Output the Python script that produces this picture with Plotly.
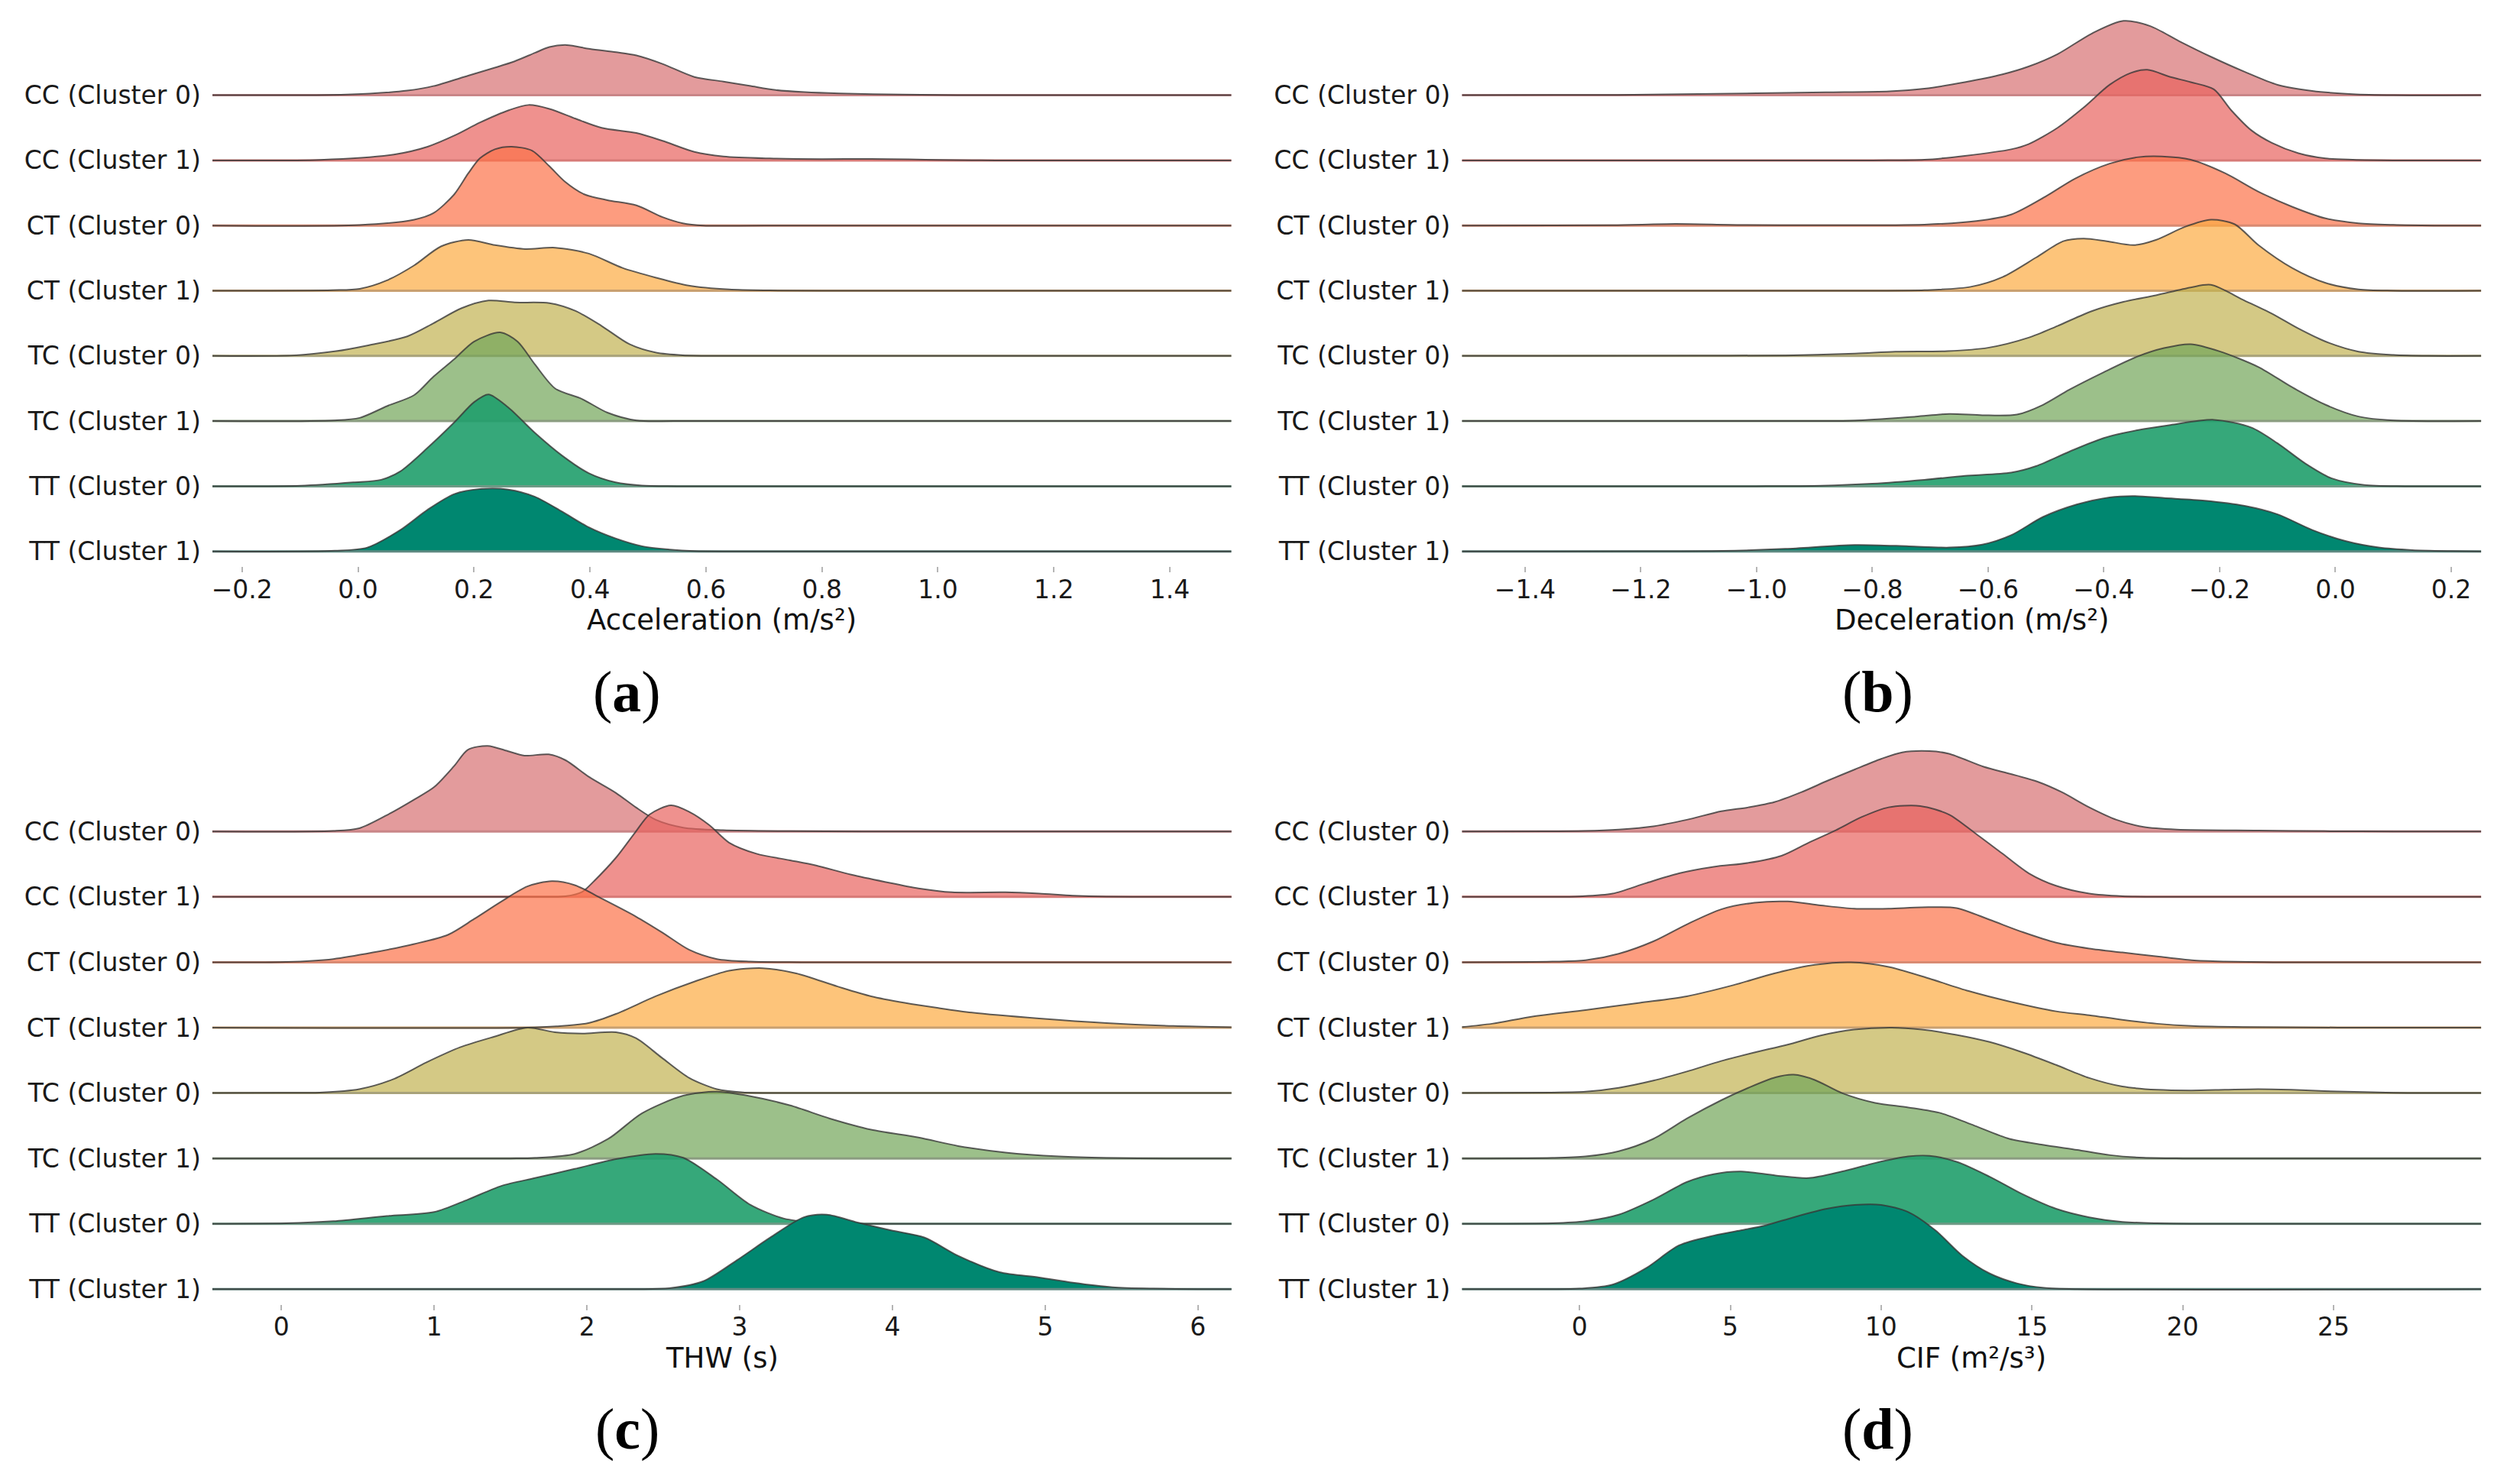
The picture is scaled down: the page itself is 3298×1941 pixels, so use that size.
import plotly.graph_objects as go

# row labels, top to bottom
labels = ["CC (Cluster 0)", "CC (Cluster 1)", "CT (Cluster 0)", "CT (Cluster 1)",
          "TC (Cluster 0)", "TC (Cluster 1)", "TT (Cluster 0)", "TT (Cluster 1)"]

# ---- (a) Acceleration: x values and ridge heights (in row units) ----
acc_cc0_x = [-0.251, -0.05, 0.02, 0.085, 0.13, 0.19, 0.235, 0.27, 0.305, 0.33, 0.36, 0.40, 0.445, 0.48, 0.525, 0.58, 0.63, 0.675, 0.72, 0.77, 0.83, 0.94, 1.05, 1.506]
acc_cc0_h = [0, 0.005, 0.025, 0.07, 0.14, 0.30, 0.42, 0.52, 0.65, 0.74, 0.77, 0.71, 0.66, 0.61, 0.48, 0.28, 0.21, 0.145, 0.08, 0.047, 0.027, 0.01, 0, 0]
acc_cc1_x = [-0.251, -0.065, 0.062, 0.12, 0.166, 0.21, 0.26, 0.294, 0.33, 0.375, 0.42, 0.48, 0.525, 0.58, 0.63, 0.71, 0.80, 0.885, 0.95, 1.0, 1.1, 1.506]
acc_cc1_h = [0, 0.008, 0.09, 0.21, 0.38, 0.58, 0.77, 0.85, 0.79, 0.64, 0.50, 0.42, 0.30, 0.13, 0.06, 0.03, 0.02, 0.023, 0.015, 0.008, 0, 0]
acc_ct0_x = [-0.251, 0.003, 0.097, 0.13, 0.166, 0.19, 0.21, 0.236, 0.265, 0.30, 0.33, 0.356, 0.39, 0.43, 0.48, 0.525, 0.56, 0.595, 0.7, 1.506]
acc_ct0_h = [0, 0.008, 0.09, 0.19, 0.48, 0.80, 1.03, 1.17, 1.21, 1.15, 0.91, 0.68, 0.48, 0.39, 0.31, 0.13, 0.035, 0, 0, 0]
acc_ct1_x = [-0.251, -0.043, 0.003, 0.05, 0.097, 0.143, 0.19, 0.236, 0.288, 0.34, 0.398, 0.456, 0.514, 0.57, 0.64, 0.71, 0.8, 1.506]
acc_ct1_h = [0, 0.008, 0.03, 0.16, 0.39, 0.68, 0.78, 0.70, 0.64, 0.66, 0.57, 0.35, 0.20, 0.08, 0.02, 0.005, 0, 0]
acc_tc0_x = [-0.251, -0.11, -0.04, 0.016, 0.085, 0.13, 0.178, 0.225, 0.27, 0.33, 0.375, 0.42, 0.468, 0.514, 0.56, 0.62, 1.506]
acc_tc0_h = [0, 0.008, 0.07, 0.16, 0.30, 0.50, 0.73, 0.85, 0.82, 0.81, 0.69, 0.46, 0.18, 0.05, 0.01, 0, 0]
acc_tc1_x = [-0.251, -0.04, 0.003, 0.05, 0.097, 0.13, 0.166, 0.2, 0.245, 0.275, 0.305, 0.34, 0.386, 0.43, 0.48, 0.55, 1.506]
acc_tc1_h = [0, 0.01, 0.05, 0.23, 0.40, 0.68, 0.95, 1.22, 1.36, 1.22, 0.87, 0.50, 0.34, 0.13, 0.01, 0, 0]
acc_tt0_x = [-0.251, -0.1, -0.008, 0.04, 0.073, 0.12, 0.166, 0.2, 0.225, 0.259, 0.305, 0.352, 0.398, 0.444, 0.49, 0.55, 1.506]
acc_tt0_h = [0, 0.008, 0.06, 0.10, 0.23, 0.59, 0.98, 1.29, 1.41, 1.21, 0.82, 0.47, 0.20, 0.06, 0.01, 0, 0]
acc_tt1_x = [-0.251, -0.04, 0.016, 0.073, 0.12, 0.166, 0.213, 0.259, 0.305, 0.352, 0.398, 0.444, 0.49, 0.537, 0.58, 0.65, 1.506]
acc_tt1_h = [0, 0.01, 0.06, 0.33, 0.64, 0.88, 0.96, 0.95, 0.84, 0.61, 0.37, 0.20, 0.08, 0.03, 0.005, 0, 0]

# ---- (b) Deceleration ----
dec_cc0_x = [-1.509, -1.24, -1.0, -0.88, -0.77, -0.71, -0.64, -0.575, -0.53, -0.48, -0.42, -0.366, -0.32, -0.27, -0.215, -0.157, -0.1, -0.04, 0.03, 0.1, 0.252]
dec_cc0_h = [0, 0.005, 0.03, 0.045, 0.06, 0.10, 0.20, 0.32, 0.44, 0.63, 0.95, 1.14, 1.06, 0.83, 0.59, 0.36, 0.16, 0.066, 0.016, 0, 0]
dec_cc1_x = [-1.509, -0.8, -0.71, -0.64, -0.56, -0.53, -0.48, -0.435, -0.39, -0.354, -0.325, -0.285, -0.25, -0.21, -0.18, -0.145, -0.11, -0.064, -0.017, 0.03, 0.1, 0.252]
dec_cc1_h = [0, 0, 0.01, 0.07, 0.17, 0.25, 0.50, 0.81, 1.16, 1.34, 1.39, 1.28, 1.20, 1.09, 0.77, 0.46, 0.27, 0.11, 0.03, 0.01, 0, 0]
dec_ct0_x = [-1.509, -1.25, -1.14, -1.03, -0.9, -0.71, -0.62, -0.56, -0.50, -0.45, -0.39, -0.34, -0.30, -0.25, -0.19, -0.133, -0.075, -0.017, 0.04, 0.1, 0.17, 0.252]
dec_ct0_h = [0, 0.005, 0.025, 0.008, 0.005, 0.015, 0.07, 0.17, 0.45, 0.72, 0.95, 1.05, 1.06, 1.01, 0.80, 0.52, 0.29, 0.11, 0.035, 0.01, 0, 0]
dec_ct1_x = [-1.509, -0.8, -0.71, -0.63, -0.575, -0.517, -0.47, -0.435, -0.395, -0.348, -0.31, -0.26, -0.215, -0.174, -0.133, -0.075, -0.017, 0.04, 0.1, 0.252]
dec_ct1_h = [0, 0, 0.008, 0.06, 0.21, 0.51, 0.76, 0.80, 0.76, 0.70, 0.78, 0.98, 1.09, 1.02, 0.70, 0.35, 0.12, 0.02, 0, 0]
dec_tc0_x = [-1.509, -1.1, -0.95, -0.83, -0.76, -0.67, -0.60, -0.53, -0.48, -0.42, -0.366, -0.31, -0.25, -0.215, -0.157, -0.11, -0.064, -0.017, 0.04, 0.1, 0.16, 0.252]
dec_tc0_h = [0, 0.003, 0.008, 0.035, 0.066, 0.074, 0.125, 0.28, 0.46, 0.69, 0.83, 0.93, 1.05, 1.09, 0.85, 0.65, 0.42, 0.22, 0.066, 0.015, 0, 0]
dec_tc1_x = [-1.509, -0.9, -0.83, -0.725, -0.667, -0.61, -0.55, -0.505, -0.46, -0.40, -0.342, -0.296, -0.25, -0.20, -0.133, -0.075, -0.017, 0.04, 0.1, 0.252]
dec_tc1_h = [0, 0, 0.008, 0.07, 0.11, 0.09, 0.10, 0.25, 0.48, 0.75, 0.99, 1.12, 1.18, 1.07, 0.83, 0.52, 0.25, 0.07, 0.01, 0]
dec_tt0_x = [-1.509, -1.0, -0.89, -0.80, -0.71, -0.64, -0.56, -0.517, -0.46, -0.40, -0.342, -0.285, -0.21, -0.145, -0.10, -0.052, -0.006, 0.05, 0.12, 0.252]
dec_tt0_h = [0, 0, 0.008, 0.04, 0.10, 0.16, 0.21, 0.31, 0.53, 0.74, 0.86, 0.94, 1.02, 0.90, 0.66, 0.35, 0.12, 0.02, 0, 0]
dec_tt1_x = [-1.509, -1.2, -1.06, -0.95, -0.83, -0.737, -0.667, -0.61, -0.56, -0.505, -0.447, -0.39, -0.348, -0.296, -0.226, -0.157, -0.10, -0.04, 0.017, 0.075, 0.133, 0.2, 0.252]
dec_tt1_h = [0, 0.002, 0.008, 0.04, 0.10, 0.08, 0.06, 0.105, 0.25, 0.53, 0.72, 0.83, 0.85, 0.82, 0.78, 0.70, 0.57, 0.33, 0.16, 0.06, 0.02, 0.005, 0]

# ---- (c) THW ----
thw_cc0_x = [-0.453, 0.34, 0.51, 0.69, 0.87, 1.0, 1.13, 1.22, 1.35, 1.48, 1.59, 1.75, 1.86, 2.01, 2.19, 2.32, 2.45, 2.63, 2.89, 3.33, 3.8, 6.22]
thw_cc0_h = [0, 0.008, 0.05, 0.25, 0.49, 0.68, 1.0, 1.25, 1.31, 1.23, 1.16, 1.18, 1.09, 0.84, 0.59, 0.37, 0.18, 0.06, 0.02, 0.005, 0, 0]
thw_cc1_x = [-0.453, 1.75, 1.86, 1.97, 2.05, 2.19, 2.32, 2.41, 2.55, 2.67, 2.8, 2.93, 3.11, 3.33, 3.5, 3.73, 3.95, 4.17, 4.39, 4.74, 4.96, 5.18, 5.4, 5.7, 6.22]
thw_cc1_h = [0, 0, 0.01, 0.08, 0.25, 0.60, 1.00, 1.26, 1.40, 1.30, 1.10, 0.83, 0.66, 0.56, 0.48, 0.34, 0.23, 0.13, 0.07, 0.07, 0.05, 0.02, 0.004, 0, 0]
thw_ct0_x = [-0.453, 0.03, 0.34, 0.6, 0.87, 1.09, 1.26, 1.44, 1.61, 1.77, 1.92, 2.1, 2.32, 2.49, 2.67, 2.85, 3.07, 3.4, 6.22]
thw_ct0_h = [0, 0.004, 0.05, 0.15, 0.28, 0.42, 0.66, 0.93, 1.16, 1.24, 1.18, 0.97, 0.70, 0.46, 0.19, 0.05, 0.01, 0, 0]
thw_ct1_x = [-0.453, 1.6, 1.8, 2.01, 2.19, 2.45, 2.71, 2.93, 3.15, 3.37, 3.64, 3.86, 4.08, 4.3, 4.52, 4.96, 5.4, 5.84, 6.22]
thw_ct1_h = [0, 0, 0.02, 0.07, 0.21, 0.48, 0.71, 0.87, 0.91, 0.83, 0.63, 0.48, 0.38, 0.30, 0.23, 0.14, 0.07, 0.025, 0.005]
thw_tc0_x = [-0.453, 0.0, 0.25, 0.51, 0.73, 0.95, 1.17, 1.39, 1.61, 1.79, 1.97, 2.19, 2.32, 2.49, 2.67, 2.85, 3.02, 3.3, 6.22]
thw_tc0_h = [0, 0.003, 0.008, 0.06, 0.21, 0.47, 0.70, 0.86, 1.0, 0.93, 0.91, 0.93, 0.84, 0.54, 0.23, 0.06, 0.01, 0, 0]
thw_tc1_x = [-0.453, 1.5, 1.66, 1.92, 2.14, 2.36, 2.63, 2.85, 3.07, 3.33, 3.59, 3.86, 4.17, 4.43, 4.74, 5.09, 5.4, 5.8, 6.22]
thw_tc1_h = [0, 0, 0.008, 0.07, 0.30, 0.69, 0.96, 1.02, 0.95, 0.81, 0.61, 0.44, 0.32, 0.19, 0.09, 0.03, 0.008, 0, 0]
thw_tt0_x = [-0.453, 0.03, 0.34, 0.69, 1.0, 1.22, 1.44, 1.66, 1.92, 2.19, 2.45, 2.63, 2.85, 3.07, 3.29, 3.5, 3.8, 6.22]
thw_tt0_h = [0, 0.008, 0.04, 0.12, 0.18, 0.37, 0.58, 0.70, 0.84, 0.99, 1.07, 1.01, 0.68, 0.29, 0.08, 0.02, 0, 0]
thw_tt1_x = [-0.453, 2.3, 2.54, 2.76, 2.98, 3.2, 3.42, 3.57, 3.77, 3.99, 4.21, 4.43, 4.7, 4.96, 5.18, 5.44, 5.71, 6.0, 6.22]
thw_tt1_h = [0, 0, 0.015, 0.12, 0.44, 0.79, 1.10, 1.14, 1.02, 0.90, 0.79, 0.51, 0.26, 0.18, 0.10, 0.03, 0.008, 0, 0]

# ---- (d) CIF ----
cif_cc0_x = [-3.9, -1, 0.2, 1.3, 2.45, 3.56, 4.7, 5.6, 6.46, 7.35, 8.24, 9.13, 10.0, 10.7, 11.6, 12.25, 13.4, 14.3, 15.2, 16.0, 16.9, 17.8, 18.7, 19.8, 22.5, 24.7, 27, 29.9]
cif_cc0_h = [0, 0.003, 0.008, 0.03, 0.08, 0.18, 0.31, 0.37, 0.45, 0.60, 0.78, 0.95, 1.11, 1.21, 1.23, 1.19, 0.99, 0.88, 0.76, 0.60, 0.37, 0.18, 0.07, 0.03, 0.015, 0.005, 0, 0]
cif_cc1_x = [-3.9, -1, 0, 1.1, 2.2, 3.3, 4.45, 5.6, 6.7, 7.6, 8.5, 9.35, 10.25, 11.3, 12.25, 13.1, 14.0, 14.9, 15.8, 16.9, 18.0, 19.5, 29.9]
cif_cc1_h = [0, 0, 0.008, 0.05, 0.21, 0.36, 0.46, 0.52, 0.63, 0.83, 1.02, 1.22, 1.37, 1.39, 1.26, 0.98, 0.67, 0.36, 0.17, 0.05, 0.01, 0, 0]
cif_ct0_x = [-3.9, -0.9, 0.2, 1.3, 2.45, 3.56, 4.7, 5.8, 6.9, 8.0, 9.1, 10.25, 11.35, 12.5, 13.6, 14.7, 15.8, 16.9, 18.0, 19.15, 20.3, 21.4, 23, 29.9]
cif_ct0_h = [0, 0.01, 0.03, 0.13, 0.32, 0.58, 0.81, 0.91, 0.93, 0.87, 0.82, 0.82, 0.84, 0.83, 0.65, 0.46, 0.30, 0.21, 0.15, 0.09, 0.03, 0.01, 0, 0]
cif_ct1_x = [-3.9, -2.9, -1.56, 0.2, 2.0, 3.56, 5.1, 6.46, 7.8, 9.0, 10.25, 11.6, 12.9, 14.25, 15.8, 16.9, 18.0, 19.15, 20.3, 22, 24, 26, 29.9]
cif_ct1_h = [0.01, 0.06, 0.17, 0.27, 0.38, 0.48, 0.65, 0.83, 0.96, 1.0, 0.93, 0.75, 0.56, 0.40, 0.25, 0.19, 0.12, 0.06, 0.025, 0.008, 0.003, 0, 0]
cif_tc0_x = [-3.9, -0.9, 0.2, 1.3, 2.45, 3.56, 4.7, 5.8, 6.9, 8.0, 9.1, 10.35, 11.35, 12.5, 13.6, 14.7, 15.8, 16.9, 18.0, 19.15, 20.3, 21.4, 22.5, 23.6, 24.7, 27, 29.9]
cif_tc0_h = [0, 0.008, 0.02, 0.08, 0.19, 0.33, 0.49, 0.62, 0.74, 0.88, 0.97, 1.0, 0.97, 0.89, 0.78, 0.62, 0.43, 0.23, 0.10, 0.05, 0.04, 0.05, 0.06, 0.05, 0.03, 0.005, 0]
cif_tc1_x = [-3.9, -0.9, 0.2, 1.3, 2.45, 3.56, 4.7, 5.6, 6.5, 7.1, 7.8, 8.7, 9.8, 10.9, 12.0, 13.1, 14.25, 15.35, 16.5, 17.6, 18.7, 20, 29.9]
cif_tc1_h = [0, 0.008, 0.03, 0.11, 0.30, 0.61, 0.89, 1.08, 1.24, 1.28, 1.20, 1.0, 0.85, 0.78, 0.69, 0.50, 0.30, 0.21, 0.13, 0.05, 0.01, 0, 0]
cif_tt0_x = [-3.9, -0.9, 0.2, 1.3, 2.45, 3.56, 4.45, 5.35, 6.5, 7.6, 8.7, 9.8, 10.9, 11.6, 12.5, 13.6, 14.7, 15.8, 16.9, 18.0, 19.15, 20.5, 29.9]
cif_tt0_h = [0, 0.008, 0.04, 0.14, 0.37, 0.64, 0.76, 0.80, 0.74, 0.70, 0.80, 0.93, 1.03, 1.04, 0.95, 0.72, 0.45, 0.23, 0.10, 0.03, 0.008, 0, 0]
cif_tt1_x = [-3.9, -1, 0, 1.1, 2.2, 3.3, 4.45, 5.35, 6.2, 7.1, 8.2, 9.13, 10.0, 10.9, 11.8, 12.7, 13.6, 14.5, 15.4, 16.5, 29.9]
cif_tt1_h = [0, 0, 0.008, 0.07, 0.32, 0.67, 0.82, 0.90, 0.98, 1.10, 1.23, 1.29, 1.29, 1.18, 0.90, 0.51, 0.24, 0.09, 0.02, 0, 0]

# tick values per panel
acc_ticks = [-0.2, 0.0, 0.2, 0.4, 0.6, 0.8, 1.0, 1.2, 1.4]
dec_ticks = [-1.4, -1.2, -1.0, -0.8, -0.6, -0.4, -0.2, 0.0, 0.2]
thw_ticks = [0, 1, 2, 3, 4, 5, 6]
cif_ticks = [0, 5, 10, 15, 20, 25]

fill_colors = ["rgba(215,112,114,0.7)", "rgba(232,98,94,0.7)", "rgba(252,114,73,0.7)",
               "rgba(252,171,66,0.7)", "rgba(194,178,81,0.7)", "rgba(114,165,88,0.7)",
               "rgba(32,158,107,0.9)", "rgba(0,135,112,1.0)"]
base_colors = ["#c98587", "#d77a77", "#d98a72", "#c9a070", "#a8a27a", "#8a9c80",
               "#6f9a86", "#5f8a82"]

panels = [
    dict(xs=[acc_cc0_x, acc_cc1_x, acc_ct0_x, acc_ct1_x, acc_tc0_x, acc_tc1_x, acc_tt0_x, acc_tt1_x],
         hs=[acc_cc0_h, acc_cc1_h, acc_ct0_h, acc_ct1_h, acc_tc0_h, acc_tc1_h, acc_tt0_h, acc_tt1_h],
         ax="x", ay="y"),
    dict(xs=[dec_cc0_x, dec_cc1_x, dec_ct0_x, dec_ct1_x, dec_tc0_x, dec_tc1_x, dec_tt0_x, dec_tt1_x],
         hs=[dec_cc0_h, dec_cc1_h, dec_ct0_h, dec_ct1_h, dec_tc0_h, dec_tc1_h, dec_tt0_h, dec_tt1_h],
         ax="x2", ay="y2"),
    dict(xs=[thw_cc0_x, thw_cc1_x, thw_ct0_x, thw_ct1_x, thw_tc0_x, thw_tc1_x, thw_tt0_x, thw_tt1_x],
         hs=[thw_cc0_h, thw_cc1_h, thw_ct0_h, thw_ct1_h, thw_tc0_h, thw_tc1_h, thw_tt0_h, thw_tt1_h],
         ax="x3", ay="y3"),
    dict(xs=[cif_cc0_x, cif_cc1_x, cif_ct0_x, cif_ct1_x, cif_tc0_x, cif_tc1_x, cif_tt0_x, cif_tt1_x],
         hs=[cif_cc0_h, cif_cc1_h, cif_ct0_h, cif_ct1_h, cif_tc0_h, cif_tc1_h, cif_tt0_h, cif_tt1_h],
         ax="x4", ay="y4"),
]

fig = go.Figure()
n = len(labels)
for p in panels:
    for i in range(n):
        xs, hs = p["xs"][i], p["hs"][i]
        base = n - 1 - i
        # baseline of the ridge
        fig.add_trace(go.Scatter(x=[xs[0], xs[-1]], y=[base, base], mode="lines",
                                 line=dict(color=base_colors[i], width=3),
                                 xaxis=p["ax"], yaxis=p["ay"], hoverinfo="skip"))
        # density ridge
        fig.add_trace(go.Scatter(x=xs, y=[base + h for h in hs], mode="lines",
                                 fill="tonexty", fillcolor=fill_colors[i],
                                 line=dict(color="rgba(55,55,55,0.8)", width=2,
                                           shape="spline", smoothing=0.8),
                                 xaxis=p["ax"], yaxis=p["ay"], name=labels[i]))

tick_font = dict(family="DejaVu Sans", size=33, color="#1a1a1a")


def xax(domain, rng, ticks, fmt, anchor):
    return dict(domain=domain, range=rng, anchor=anchor, tickvals=ticks, tickformat=fmt,
                showgrid=False, zeroline=False, showline=False, ticks="outside",
                ticklen=7, tickwidth=2, tickcolor="#b5b5b5", tickfont=tick_font,
                ticklabelstandoff=-6)


def yax(domain, rng, anchor):
    return dict(domain=domain, range=rng, anchor=anchor,
                tickvals=list(range(n - 1, -1, -1)), ticktext=labels,
                showgrid=False, zeroline=False, showline=False, ticks="",
                ticklabelstandoff=14, tickfont=tick_font)


# domains shifted by the page's 8 px body margin
left, right = [0.0818, 0.4863], [0.5777, 0.9822]
top, bottom = [0.62236, 0.99382], [0.12488, 0.50953]
top_rng, bot_rng = [-0.226, 8.226], [-0.2256, 8.499]

fig.update_layout(
    width=3298, height=1941,
    margin=dict(l=0, r=0, t=0, b=0),
    paper_bgcolor="white", plot_bgcolor="white",
    showlegend=False,
    xaxis=xax(left, [-0.2514, 1.5064], acc_ticks, ".1f", "y"),
    yaxis=yax(top, top_rng, "x"),
    xaxis2=xax(right, [-1.509, 0.252], dec_ticks, ".1f", "y2"),
    yaxis2=yax(top, top_rng, "x2"),
    xaxis3=xax(left, [-0.453, 6.22], thw_ticks, "d", "y3"),
    yaxis3=yax(bottom, bot_rng, "x3"),
    xaxis4=xax(right, [-3.9, 29.9], cif_ticks, "d", "y4"),
    yaxis4=yax(bottom, bot_rng, "x4"),
)

titles = [("Acceleration (m/s²)", 0.2840, 0.5858), ("Deceleration (m/s²)", 0.7800, 0.5858),
          ("THW (s)", 0.2840, 0.0883), ("CIF (m²/s³)", 0.7800, 0.0883)]
for txt, x, y in titles:
    fig.add_annotation(text=txt, x=x, y=y, xref="paper", yref="paper", showarrow=False,
                       xanchor="center", yanchor="middle",
                       font=dict(family="DejaVu Sans", size=37, color="#111"))

captions = [("a", 0.2465, 0.5378), ("b", 0.7426, 0.5378), ("c", 0.2465, 0.0407), ("d", 0.7426, 0.0407)]
for c, x, y in captions:
    fig.add_annotation(text="(<b>" + c + "</b>)", x=x, y=y, xref="paper", yref="paper",
                       showarrow=False, xanchor="center", yanchor="middle",
                       font=dict(family="Liberation Serif", size=76, color="black"))

fig.write_html("out.html")
